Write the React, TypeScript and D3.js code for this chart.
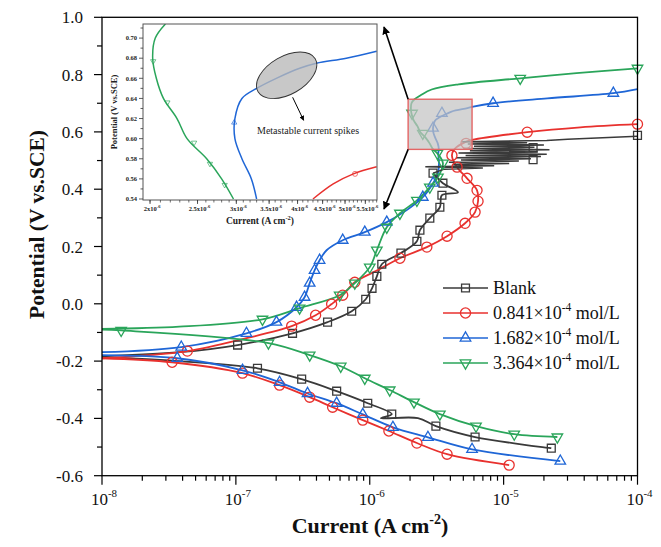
import * as d3 from 'd3';

type Pt = [number, number]; // [current density (A cm-2), potential (V vs. SCE)]

// ---- main polarization curves ----
const blankCathodic: Pt[] = [[1.0e-8, -0.186], [3.78e-8, -0.2], [1.45e-7, -0.225], [3.1e-7, -0.263], [5.66e-7, -0.305], [9.66e-7, -0.347], [1.46e-6, -0.385], [1.21e-6, -0.399], [2.29e-6, -0.399], [3.12e-6, -0.427], [6.12e-6, -0.465], [2.27e-5, -0.504]];
const blankAnodic: Pt[] = [[1.0e-8, -0.183], [3.78e-8, -0.169], [1.03e-7, -0.144], [2.65e-7, -0.103], [4.84e-7, -0.064], [7.33e-7, -0.026], [9.33e-7, 0.016], [1.04e-6, 0.054], [1.13e-6, 0.096], [1.23e-6, 0.138], [1.71e-6, 0.177], [2.25e-6, 0.218], [2.37e-6, 0.257], [2.81e-6, 0.299], [3.34e-6, 0.337], [3.46e-6, 0.379], [4.56e-6, 0.389], [3.52e-6, 0.421], [2.97e-6, 0.456]];
// noisy pitting region of the blank curve (drawn straight, point to point)
const blankSpikes: Pt[] = [[2.97e-6, 0.456], [3.6e-6, 0.47], [7.0e-6, 0.474], [2.6e-6, 0.478], [8.5e-6, 0.482], [4.2e-6, 0.486], [1.1e-5, 0.49], [3.9e-6, 0.494], [1.3e-5, 0.498], [4.8e-6, 0.502], [1.6e-5, 0.506], [4.4e-6, 0.51], [1.9e-5, 0.514], [5.2e-6, 0.518], [2.1e-5, 0.522], [4.6e-6, 0.526], [1.8e-5, 0.53], [5.6e-6, 0.534], [2.2e-5, 0.538], [5.0e-6, 0.542], [1.7e-5, 0.546], [6.0e-6, 0.55], [2.0e-5, 0.554], [5.4e-6, 0.558], [1.5e-5, 0.562], [4.9e-6, 0.566], [2.1e-5, 0.57], [3.0e-5, 0.574], [1.0e-4, 0.585]];
const blankMarks: Pt[] = [[1.03e-7, -0.144], [2.65e-7, -0.103], [4.84e-7, -0.064], [7.33e-7, -0.026], [9.33e-7, 0.016], [1.04e-6, 0.054], [1.13e-6, 0.096], [1.23e-6, 0.138], [1.71e-6, 0.177], [2.25e-6, 0.218], [2.37e-6, 0.257], [2.81e-6, 0.299], [3.34e-6, 0.337], [3.46e-6, 0.379], [3.52e-6, 0.421], [2.97e-6, 0.456], [1.66e-5, 0.503], [1.66e-5, 0.545], [1.0e-4, 0.588], [1.45e-7, -0.225], [3.1e-7, -0.263], [5.66e-7, -0.305], [9.66e-7, -0.347], [1.46e-6, -0.385], [3.12e-6, -0.427], [6.12e-6, -0.465], [2.27e-5, -0.504]];

const redCathodic: Pt[] = [[1.0e-8, -0.19], [3.34e-8, -0.204], [1.12e-7, -0.242], [2.12e-7, -0.284], [3.56e-7, -0.326], [5.28e-7, -0.361], [8.87e-7, -0.406], [1.39e-6, -0.444], [2.25e-6, -0.486], [3.78e-6, -0.525], [1.1e-5, -0.563]];
const redAnodic: Pt[] = [[1.0e-8, -0.19], [4.34e-8, -0.165], [1.2e-7, -0.12], [2.61e-7, -0.078], [3.94e-7, -0.04], [5.19e-7, -0.001], [6.28e-7, 0.03], [7.73e-7, 0.075], [1.13e-6, 0.116], [1.68e-6, 0.159], [2.67e-6, 0.198], [3.78e-6, 0.236], [5.15e-6, 0.281], [6.12e-6, 0.32], [6.44e-6, 0.358], [6.33e-6, 0.396], [5.33e-6, 0.438], [4.49e-6, 0.477], [4.11e-6, 0.518], [4.3e-6, 0.54], [5.2e-6, 0.565], [5.8e-6, 0.572], [1.5e-5, 0.599], [3.74e-5, 0.616], [1.0e-4, 0.627]];
const redMarks: Pt[] = [[4.34e-8, -0.165], [2.61e-7, -0.078], [3.94e-7, -0.04], [5.19e-7, -0.001], [6.28e-7, 0.03], [7.73e-7, 0.075], [1.68e-6, 0.159], [2.67e-6, 0.198], [3.78e-6, 0.236], [5.15e-6, 0.281], [6.12e-6, 0.32], [6.44e-6, 0.358], [6.33e-6, 0.396], [5.33e-6, 0.438], [4.49e-6, 0.477], [4.11e-6, 0.518], [5.24e-6, 0.56], [1.5e-5, 0.599], [1.0e-4, 0.627], [3.34e-8, -0.204], [1.12e-7, -0.242], [2.12e-7, -0.284], [3.56e-7, -0.326], [5.28e-7, -0.361], [8.87e-7, -0.406], [1.39e-6, -0.444], [2.25e-6, -0.486], [3.78e-6, -0.525], [1.1e-5, -0.563]];

const blueCathodic: Pt[] = [[1.0e-8, -0.179], [3.65e-8, -0.19], [1.12e-7, -0.232], [2.12e-7, -0.274], [3.43e-7, -0.313], [5.66e-7, -0.347], [8.87e-7, -0.386], [1.49e-6, -0.431], [2.72e-6, -0.466], [5.81e-6, -0.508], [2.65e-5, -0.549]];
const blueAnodic: Pt[] = [[1.0e-8, -0.169], [3.91e-8, -0.151], [1.2e-7, -0.103], [2.01e-7, -0.064], [2.84e-7, -0.012], [3.26e-7, 0.023], [3.56e-7, 0.072], [3.87e-7, 0.117], [4.22e-7, 0.152], [4.76e-7, 0.187], [6.28e-7, 0.222], [9.18e-7, 0.25], [1.34e-6, 0.285], [1.89e-6, 0.327], [2.49e-6, 0.372], [2.97e-6, 0.421], [3.23e-6, 0.456], [3.29e-6, 0.491], [3.25e-6, 0.525], [3.28e-6, 0.54], [3.22e-6, 0.56], [3.08e-6, 0.58], [2.98e-6, 0.6], [2.98e-6, 0.62], [3.08e-6, 0.64], [3.3e-6, 0.65], [3.62e-6, 0.66], [4.04e-6, 0.67], [4.37e-6, 0.675], [5.03e-6, 0.68], [5.8e-6, 0.687], [8.34e-6, 0.7], [2.12e-5, 0.717], [6.6e-5, 0.735], [1.0e-4, 0.749]];
const blueMarks: Pt[] = [[3.91e-8, -0.151], [1.2e-7, -0.103], [2.01e-7, -0.064], [2.84e-7, -0.012], [3.26e-7, 0.023], [3.56e-7, 0.072], [3.87e-7, 0.117], [4.22e-7, 0.152], [6.28e-7, 0.222], [9.18e-7, 0.25], [1.34e-6, 0.285], [2.49e-6, 0.372], [2.97e-6, 0.421], [2.97e-6, 0.613], [3.46e-6, 0.665], [8.34e-6, 0.7], [6.6e-5, 0.735], [3.65e-8, -0.19], [1.12e-7, -0.232], [2.12e-7, -0.274], [3.43e-7, -0.313], [5.66e-7, -0.347], [8.87e-7, -0.386], [1.49e-6, -0.431], [2.72e-6, -0.466], [5.81e-6, -0.508], [2.65e-5, -0.549]];

const greenCathodic: Pt[] = [[1.0e-8, -0.09], [1.39e-8, -0.093], [1.75e-7, -0.137], [3.56e-7, -0.179], [6.07e-7, -0.218], [9.18e-7, -0.26], [1.41e-6, -0.301], [2.14e-6, -0.343], [3.34e-6, -0.385], [6.22e-6, -0.427], [1.2e-5, -0.455], [2.52e-5, -0.465]];
const greenAnodic: Pt[] = [[1.0e-8, -0.088], [3.78e-8, -0.08], [1.58e-7, -0.054], [2.99e-7, -0.015], [5.96e-7, 0.03], [7.73e-7, 0.072], [1.0e-6, 0.128], [1.13e-6, 0.187], [1.34e-6, 0.267], [1.68e-6, 0.316], [2.25e-6, 0.361], [2.81e-6, 0.407], [3.23e-6, 0.442], [3.52e-6, 0.491], [3.2e-6, 0.525], [2.96e-6, 0.54], [2.8e-6, 0.56], [2.61e-6, 0.58], [2.38e-6, 0.6], [2.27e-6, 0.62], [2.13e-6, 0.64], [2.06e-6, 0.66], [2.03e-6, 0.68], [2.05e-6, 0.7], [2.15e-6, 0.713], [2.4e-6, 0.728], [2.9e-6, 0.748], [4.6e-6, 0.766], [1.33e-5, 0.787], [3.5e-5, 0.805], [1.0e-4, 0.822]];
const greenMarks: Pt[] = [[1.39e-8, -0.093], [1.58e-7, -0.054], [2.99e-7, -0.015], [5.96e-7, 0.03], [7.73e-7, 0.072], [1.0e-6, 0.128], [1.13e-6, 0.187], [1.34e-6, 0.267], [1.68e-6, 0.316], [2.25e-6, 0.361], [2.81e-6, 0.407], [3.23e-6, 0.442], [3.52e-6, 0.491], [3.2e-6, 0.525], [2.49e-6, 0.595], [2.07e-6, 0.665], [1.33e-5, 0.787], [1.0e-4, 0.822], [1.75e-7, -0.137], [3.56e-7, -0.179], [6.07e-7, -0.218], [9.18e-7, -0.26], [1.41e-6, -0.301], [2.14e-6, -0.343], [3.34e-6, -0.385], [6.22e-6, -0.427], [1.2e-5, -0.455], [2.52e-5, -0.465]];

// ---- inset (zoom on 0.54–0.71 V) ----
const insetGreen: Pt[] = [[2.96e-6, 0.54], [2.8e-6, 0.56], [2.61e-6, 0.58], [2.38e-6, 0.6], [2.27e-6, 0.62], [2.13e-6, 0.64], [2.06e-6, 0.66], [2.025e-6, 0.68], [2.05e-6, 0.7], [2.15e-6, 0.714]];
const insetBlue: Pt[] = [[3.3e-6, 0.54], [3.22e-6, 0.56], [3.08e-6, 0.58], [2.98e-6, 0.6], [2.98e-6, 0.62], [3.08e-6, 0.64], [3.3e-6, 0.65], [3.62e-6, 0.66], [4.04e-6, 0.67], [4.37e-6, 0.675], [5.03e-6, 0.68], [5.8e-6, 0.687]];
const insetRed: Pt[] = [[4.3e-6, 0.54], [4.73e-6, 0.555], [5.2e-6, 0.565], [5.8e-6, 0.572]];
const insetGreenMarks: Pt[] = [[2.03e-6, 0.677], [2.17e-6, 0.636], [2.46e-6, 0.596], [2.65e-6, 0.575], [2.84e-6, 0.554]];
const insetBlueMarks: Pt[] = [[2.97e-6, 0.616]];
const insetRedMarks: Pt[] = [[5.24e-6, 0.565]];
const spikeCentre: Pt = [3.8e-6, 0.663];

// ---- labels & ticks ----
const legendNames = ['Blank', '0.841', '1.682', '3.364'];
const colors = ['#3a3a3a', '#e8312e', '#1f66d6', '#2aa55a'];
const xExponents = [-8, -7, -6, -5, -4];
const yMajor = [-0.6, -0.4, -0.2, 0.0, 0.2, 0.4, 0.6, 0.8, 1.0];
const yMinor = [-0.5, -0.3, -0.1, 0.1, 0.3, 0.5, 0.7, 0.9];
const insetYMajor = [0.54, 0.56, 0.58, 0.6, 0.62, 0.64, 0.66, 0.68, 0.7];
const insetYMinor = [0.55, 0.57, 0.59, 0.61, 0.63, 0.65, 0.67, 0.69, 0.71];
const insetXLabels = [2, 2.5, 3, 3.5, 4, 4.5, 5, 5.5];
const insetXMinor = d3.range(20, 59).map(k => k * 1e-7);

const FONT = '"Liberation Serif", "Times New Roman", serif';

const series = [
  { cat: blankCathodic, an: blankAnodic, marks: blankMarks },
  { cat: redCathodic, an: redAnodic, marks: redMarks },
  { cat: blueCathodic, an: blueAnodic, marks: blueMarks },
  { cat: greenCathodic, an: greenAnodic, marks: greenMarks },
];

const symbolTypes = [d3.symbolSquare, d3.symbolCircle, d3.symbolTriangle, d3.symbolTriangle];
const symbolSizes = [62, 80, 48, 48];

function Marker({ k, cx, cy, scale = 1 }: { k: number; cx: number; cy: number; scale?: number }) {
  const d = d3.symbol(symbolTypes[k], symbolSizes[k] * scale * scale)() as string;
  const rot = k === 3 ? 180 : 0;
  return (
    <path
      d={d}
      transform={`translate(${cx},${cy}) rotate(${rot})`}
      fill="none"
      stroke={colors[k]}
      strokeWidth={1.3 * scale}
    />
  );
}

export default function App() {
  const W = 661;
  const H = 547;
  const L = 102, R = 637.5, T = 17.3, B = 475.7;

  const x = d3.scaleLog().domain([1e-8, 1e-4]).range([L, R]);
  const y = d3.scaleLinear().domain([-0.6, 1.0]).range([B, T]);

  const line = d3
    .line<Pt>()
    .x(d => x(d[0]))
    .y(d => y(d[1]))
    .curve(d3.curveCatmullRom.alpha(0.5));
  const straight = d3
    .line<Pt>()
    .x(d => x(d[0]))
    .y(d => y(d[1]));

  // inset scales
  const iL = 143, iR = 377, iT = 24, iB = 200;
  const ix = d3.scaleLog().domain([1.935e-6, 5.81e-6]).range([iL, iR]);
  const iy = d3.scaleLinear().domain([0.539, 0.714]).range([iB, iT]);
  const iline = d3
    .line<Pt>()
    .x(d => ix(d[0]))
    .y(d => iy(d[1]))
    .curve(d3.curveCatmullRom.alpha(0.5));

  const xMinor: number[] = [];
  for (let e = -8; e < -4; e++) for (let m = 2; m <= 9; m++) xMinor.push(m * Math.pow(10, e));

  // zoom box in main axes = inset domain
  const [dx0, dx1] = ix.domain();
  const [dy0, dy1] = iy.domain();
  const bx0 = x(dx0), bx1 = x(dx1), by0 = y(dy1), by1 = y(dy0);

  const legendY = [288, 313, 338, 363];

  return (
    <svg
      width={W}
      height={H}
      style={{ position: 'absolute', left: 0, top: 0, background: '#fff' }}
      fontFamily={FONT}
    >
      <defs>
        <clipPath id="plotClip">
          <rect x={L} y={T} width={R - L} height={B - T} />
        </clipPath>
        <clipPath id="insetClip">
          <rect x={iL} y={iT} width={iR - iL} height={iB - iT} />
        </clipPath>
        <marker id="arrowHead" viewBox="0 0 10 10" refX="9" refY="5" markerWidth="5" markerHeight="5" orient="auto">
          <path d="M0,0 L10,5 L0,10 Z" fill="#000" />
        </marker>
      </defs>

      {/* curves */}
      <g clipPath="url(#plotClip)">
        {series.map((s, k) => (
          <g key={k} stroke={colors[k]} strokeWidth={1.8} fill="none" strokeLinejoin="round">
            <path d={line(s.cat) as string} />
            <path d={line(s.an) as string} />
          </g>
        ))}
        <path d={straight(blankSpikes) as string} stroke={colors[0]} strokeWidth={1.5} fill="none" />
      </g>
      {series.map((s, k) => (
        <g key={`m${k}`}>
          {s.marks.map((p, j) => (
            <Marker key={j} k={k} cx={x(p[0])} cy={y(p[1])} />
          ))}
        </g>
      ))}

      {/* zoom box */}
      <rect
        x={bx0}
        y={by0}
        width={bx1 - bx0}
        height={by1 - by0}
        fill="#c4c4c4"
        fillOpacity={0.72}
        stroke="#e46565"
        strokeWidth={1.4}
      />
      <line x1={bx0} y1={by0} x2={iR + 7} y2={iT + 3} stroke="#000" strokeWidth={1.6} markerEnd="url(#arrowHead)" />
      <line x1={bx0} y1={by1} x2={iR + 7} y2={iB + 9} stroke="#000" strokeWidth={1.6} markerEnd="url(#arrowHead)" />

      {/* frame */}
      <rect x={L} y={T} width={R - L} height={B - T} fill="none" stroke="#000" strokeWidth={1.3} />

      {/* y axis */}
      {yMajor.map(v => (
        <g key={v}>
          <line x1={L - 8} x2={L} y1={y(v)} y2={y(v)} stroke="#000" strokeWidth={1.2} />
          <text x={L - 19} y={y(v) + 6} textAnchor="end" fontSize={17} fill="#111">
            {v.toFixed(1)}
          </text>
        </g>
      ))}
      {yMinor.map(v => (
        <line key={v} x1={L - 5} x2={L} y1={y(v)} y2={y(v)} stroke="#000" strokeWidth={1.2} />
      ))}

      {/* x axis */}
      {xExponents.map(e => (
        <g key={e}>
          <line x1={x(Math.pow(10, e))} x2={x(Math.pow(10, e))} y1={B} y2={B + 9} stroke="#000" strokeWidth={1.2} />
          <text x={x(Math.pow(10, e)) + 2} y={B + 29} textAnchor="middle" fontSize={17} fill="#111">
            10
            <tspan dy={-8} fontSize={11}>
              {e}
            </tspan>
          </text>
        </g>
      ))}
      {xMinor.map(v => (
        <line key={v} x1={x(v)} x2={x(v)} y1={B} y2={B + 5} stroke="#000" strokeWidth={1.2} />
      ))}

      {/* axis titles */}
      <text x={370} y={533} textAnchor="middle" fontSize={22} fontWeight="bold" fill="#111">
        Current (A cm
        <tspan dy={-9} fontSize={14}>
          -2
        </tspan>
        <tspan dy={9}>)</tspan>
      </text>
      <text
        transform={`translate(44,${(T + B) / 2 - 22}) rotate(-90)`}
        textAnchor="middle"
        fontSize={21.5}
        fontWeight="bold"
        fill="#111"
      >
        Potential (V vs.SCE)
      </text>

      {/* legend */}
      {legendNames.map((name, k) => (
        <g key={name}>
          <line x1={443} x2={488} y1={legendY[k]} y2={legendY[k]} stroke={colors[k]} strokeWidth={1.6} />
          <Marker k={k} cx={465.5} cy={legendY[k]} />
          <text x={493} y={legendY[k] + 6} fontSize={18} fill="#111">
            {k === 0 ? (
              name
            ) : (
              <>
                {name}×10
                <tspan dy={-8} fontSize={11.5}>
                  -4
                </tspan>
                <tspan dy={8}> mol/L</tspan>
              </>
            )}
          </text>
        </g>
      ))}

      {/* ---- inset ---- */}
      <g>
        <rect x={iL} y={iT} width={iR - iL} height={iB - iT} fill="#fff" />
        <g clipPath="url(#insetClip)" fill="none" strokeWidth={1.5}>
          <path d={iline(insetGreen) as string} stroke={colors[3]} />
          <path d={iline(insetBlue) as string} stroke={colors[2]} />
          <path d={iline(insetRed) as string} stroke={colors[1]} />
        </g>
        {insetGreenMarks.map((p, j) => (
          <Marker key={`ig${j}`} k={3} cx={ix(p[0])} cy={iy(p[1])} scale={0.5} />
        ))}
        {insetBlueMarks.map((p, j) => (
          <Marker key={`ib${j}`} k={2} cx={ix(p[0])} cy={iy(p[1])} scale={0.5} />
        ))}
        {insetRedMarks.map((p, j) => (
          <Marker key={`ir${j}`} k={1} cx={ix(p[0])} cy={iy(p[1])} scale={0.5} />
        ))}
        <ellipse
          cx={ix(spikeCentre[0])}
          cy={iy(spikeCentre[1])}
          rx={33}
          ry={19}
          transform={`rotate(-30 ${ix(spikeCentre[0])} ${iy(spikeCentre[1])})`}
          fill="#b8b8b8"
          fillOpacity={0.78}
          stroke="#333"
          strokeWidth={0.9}
        />
        <line
          x1={ix(spikeCentre[0]) + 6}
          y1={iy(spikeCentre[1]) + 22}
          x2={ix(spikeCentre[0]) + 17}
          y2={iy(spikeCentre[1]) + 45}
          stroke="#000"
          strokeWidth={1}
          markerEnd="url(#arrowHead)"
        />
        <text x={257} y={134} fontSize={10} fill="#222">
          Metastable current spikes
        </text>
        <rect x={iL} y={iT} width={iR - iL} height={iB - iT} fill="none" stroke="#555" strokeWidth={1} />
        {insetYMajor.map(v => (
          <g key={v}>
            <line x1={iL - 4} x2={iL} y1={iy(v)} y2={iy(v)} stroke="#333" strokeWidth={0.8} />
            <text x={iL - 6} y={iy(v) + 2.2} textAnchor="end" fontSize={6.5} fontWeight="bold" fill="#222">
              {v.toFixed(2)}
            </text>
          </g>
        ))}
        {insetYMinor.map(v => (
          <line key={v} x1={iL - 2.5} x2={iL} y1={iy(v)} y2={iy(v)} stroke="#333" strokeWidth={0.8} />
        ))}
        {insetXMinor.map(v => (
          <line key={v} x1={ix(v)} x2={ix(v)} y1={iB} y2={iB + 2.5} stroke="#333" strokeWidth={0.7} />
        ))}
        {insetXLabels.map(m => (
          <g key={m}>
            <line x1={ix(m * 1e-6)} x2={ix(m * 1e-6)} y1={iB} y2={iB + 4} stroke="#333" strokeWidth={0.8} />
            <text x={ix(m * 1e-6) + 2} y={iB + 11} textAnchor="middle" fontSize={6.5} fontWeight="bold" fill="#222">
              {m}x10
              <tspan dy={-3} fontSize={4.5}>
                -6
              </tspan>
            </text>
          </g>
        ))}
        <text x={260} y={224} textAnchor="middle" fontSize={9.5} fontWeight="bold" fill="#222">
          Current (A cm
          <tspan dy={-4} fontSize={6.5}>
            -2
          </tspan>
          <tspan dy={4}>)</tspan>
        </text>
        <text
          transform={`translate(117,${(iT + iB) / 2}) rotate(-90)`}
          textAnchor="middle"
          fontSize={8.5}
          fontWeight="bold"
          fill="#222"
        >
          Potential (V vs.SCE)
        </text>
      </g>
    </svg>
  );
}
